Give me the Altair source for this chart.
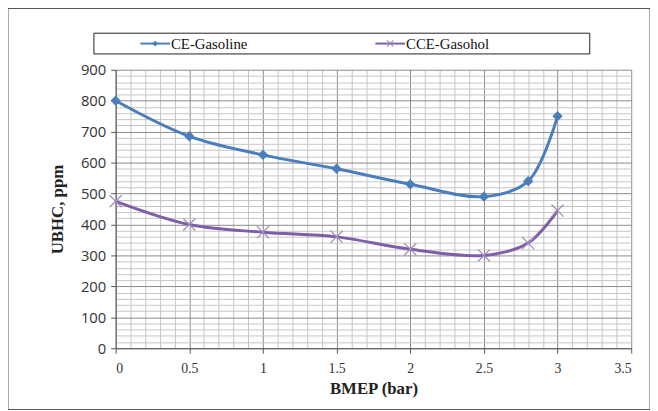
import altair as alt
import pandas as pd

bmep = [0, 0.5, 1, 1.5, 2, 2.5, 2.8, 3]
ce_gasoline = [800, 685, 625, 580, 530, 490, 540, 750]
cce_gasohol = [475, 400, 375, 360, 320, 300, 340, 445]
series_names = ["CE-Gasoline", "CCE-Gasohol"]
series_colors = ["#4A7EBB", "#7E5EA6"]
x_grid = [round(i * 0.1, 1) for i in range(36)]
y_grid = [i * 20 for i in range(46)]

df = pd.DataFrame({
    "BMEP": bmep * 2,
    "UBHC": ce_gasoline + cce_gasohol,
    "Series": [series_names[0]] * len(bmep) + [series_names[1]] * len(bmep),
})

W, H = 522, 282
serif = "Liberation Serif"
sans = "Open Sans"
XPATH = "M-1,-1L1,1M-1,1L1,-1"

x_major = "abs(datum.value*2 - round(datum.value*2)) < 0.001"
y_major = "abs(datum.value/100 - round(datum.value/100)) < 0.001"

xax = alt.Axis(
    values=x_grid, grid=True, title="BMEP (bar)", labelOverlap=False,
    gridColor={"condition": {"test": x_major, "value": "#8a8a8a"}, "value": "#c4c4c4"},
    gridWidth=1,
    labelExpr=f"{x_major} ? toString(datum.value) : ''",
    tickOpacity={"condition": {"test": x_major, "value": 1}, "value": 0},
    tickSize=5, tickColor="#555", domainColor="#555",
    labelFont=serif, labelFontSize=14, labelColor="#333", labelPadding=9,
    titleFont=serif, titleFontSize=17, titleFontWeight="bold", titleColor="#222",
    titlePadding=5,
)
yax = alt.Axis(
    values=y_grid, grid=True, title="UBHC, ppm", labelOverlap=False,
    gridColor={"condition": {"test": y_major, "value": "#8a8a8a"}, "value": "#c4c4c4"},
    gridWidth=1,
    labelExpr=f"{y_major} ? toString(datum.value) : ''",
    tickOpacity={"condition": {"test": y_major, "value": 1}, "value": 0},
    tickSize=5, tickColor="#555", domainColor="#555",
    labelFont=sans, labelFontSize=15, labelColor="#333", labelPadding=5,
    titleFont=serif, titleFontSize=17, titleFontWeight="bold", titleColor="#222",
    titlePadding=14,
)

x = alt.X("BMEP:Q", scale=alt.Scale(domain=[0, 3.5], nice=False), axis=xax)
y = alt.Y("UBHC:Q", scale=alt.Scale(domain=[0, 900], nice=False), axis=yax)
color = alt.Color("Series:N", scale=alt.Scale(domain=series_names, range=series_colors), legend=None)

base = alt.Chart(df)
lines = base.mark_line(strokeWidth=3, interpolate="catmull-rom").encode(x=x, y=y, color=color)
pts_ce = base.transform_filter(alt.datum.Series == series_names[0]).mark_point(
    shape="diamond", filled=True, size=110, opacity=1, color=series_colors[0]
).encode(x=x, y=y)
pts_cce = base.transform_filter(alt.datum.Series == series_names[1]).mark_point(
    shape=XPATH, filled=False, size=150, strokeWidth=1.3, color="#a08fbb", opacity=1
).encode(x=x, y=y)

# outer frame
frame = alt.Chart(pd.DataFrame({"a": [0]})).mark_rect(
    fill=None, stroke="#555", strokeWidth=1
).encode(x=alt.value(-109), x2=alt.value(W + 19), y=alt.value(-62), y2=alt.value(H + 62))

# legend
leg = pd.DataFrame({"a": [0]})
legbox = alt.Chart(leg).mark_rect(fill="white", stroke="#222", strokeWidth=1).encode(
    x=alt.value(-22), x2=alt.value(480), y=alt.value(-37), y2=alt.value(-16))
l1 = alt.Chart(leg).mark_rule(color=series_colors[0], strokeWidth=2).encode(
    x=alt.value(25), x2=alt.value(55), y=alt.value(-26.5))
p1 = alt.Chart(leg).mark_point(shape="diamond", filled=True, size=35, color=series_colors[0], opacity=1).encode(
    x=alt.value(40), y=alt.value(-26.5))
t1 = alt.Chart(leg).mark_text(align="left", baseline="middle", font=serif, fontSize=15, color="#111").encode(
    x=alt.value(56), y=alt.value(-26), text=alt.value(series_names[0]))
l2 = alt.Chart(leg).mark_rule(color=series_colors[1], strokeWidth=2).encode(
    x=alt.value(263), x2=alt.value(293), y=alt.value(-26.5))
p2 = alt.Chart(leg).mark_point(shape=XPATH, size=40, color="#a08fbb", strokeWidth=1.2, opacity=1).encode(
    x=alt.value(278), y=alt.value(-26.5))
t2 = alt.Chart(leg).mark_text(align="left", baseline="middle", font=serif, fontSize=15, color="#111").encode(
    x=alt.value(294), y=alt.value(-26), text=alt.value(series_names[1]))

chart = alt.layer(lines, pts_ce, pts_cce, frame, legbox, l1, p1, t1, l2, p2, t2).properties(
    width=W, height=H,
    autosize=alt.AutoSizeParams(type="none"),
    padding={"left": 109, "top": 60, "right": 19, "bottom": 61},
    background="white",
).configure_view(stroke=None)

chart.save("out.html", embed_options={"renderer": "svg", "actions": False})
